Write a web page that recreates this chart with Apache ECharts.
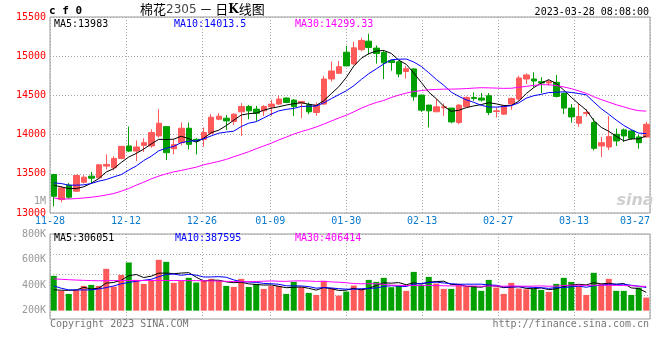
<!DOCTYPE html>
<html><head><meta charset="utf-8">
<script src="https://cdn.jsdelivr.net/npm/echarts@6/dist/echarts.min.js"></script>
<style>html,body{margin:0;padding:0;background:#fff}#c{width:660px;height:360px}</style>
</head><body><div id="c"></div>
<script>
const dates = ['11-28','11-29','11-30','12-01','12-02','12-05','12-06','12-07','12-08','12-09',
'12-12','12-13','12-14','12-15','12-16','12-19','12-20','12-21','12-22','12-23',
'12-26','12-27','12-28','12-29','12-30','01-03','01-04','01-05','01-06','01-09',
'01-10','01-11','01-12','01-13','01-16','01-17','01-18','01-19','01-20','01-30',
'01-31','02-01','02-02','02-03','02-06','02-07','02-08','02-09','02-10','02-13',
'02-14','02-15','02-16','02-17','02-20','02-21','02-22','02-23','02-24','02-27',
'02-28','03-01','03-02','03-03','03-06','03-07','03-08','03-09','03-10','03-13',
'03-14','03-15','03-16','03-17','03-20','03-21','03-22','03-23','03-24','03-27'];
const xTickLabels = ['11-28','12-12','12-26','01-09','01-30','02-13','02-27','03-13','03-27'];

const opens = [13491,13171,13355,13278,13393,13470,13449,13598,13577,13696,
13855,13790,13863,13855,13983,14102,13820,13897,14081,13940,
13940,14017,14196,14209,14167,14291,14359,14325,14303,14355,
14389,14466,14440,14402,14380,14282,14389,14709,14782,15051,
14902,15083,15192,15103,15047,14944,14928,14805,14838,14504,
14376,14291,14342,14338,14154,14355,14474,14466,14496,14295,
14261,14389,14453,14709,14709,14675,14658,14667,14526,14338,
14145,14269,14154,13855,13842,14004,14060,14047,13970,13970];
const closes = [13213,13320,13201,13478,13457,13444,13615,13620,13696,13850,
13790,13842,13897,14026,14145,13769,13872,14081,13876,13919,
14026,14222,14235,14175,14261,14359,14303,14273,14359,14389,
14453,14410,14359,14423,14291,14376,14709,14812,14866,14876,
15107,15201,15110,15035,14915,14920,14773,14840,14483,14312,
14303,14355,14355,14162,14376,14474,14461,14440,14282,14303,
14367,14461,14722,14761,14684,14658,14675,14487,14338,14226,
14231,14282,13825,13897,13974,13919,13983,13953,13897,14132];
const lows = [13085,13137,13179,13269,13376,13384,13440,13555,13543,13684,
13778,13662,13778,13833,13961,13675,13748,13863,13812,13748,
13846,14004,14184,14060,14124,13983,14196,14175,14239,14239,
14380,14402,14239,14209,14261,14239,14380,14675,14773,14872,
14889,15064,15020,14905,14709,14816,14731,14715,14432,14290,
14090,14291,14239,14145,14132,14346,14432,14423,14248,14218,
14252,14316,14432,14645,14603,14530,14624,14474,14261,14154,
14098,14231,13799,13714,13803,13855,13906,13932,13820,13961];
const highs = [13500,13342,13384,13491,13483,13525,13620,13748,13726,13855,
14102,13927,13953,14068,14325,14110,13940,14154,14154,13953,
14090,14261,14273,14248,14273,14402,14376,14367,14376,14444,
14496,14474,14453,14423,14410,14410,14750,14930,14940,15132,
15184,15235,15286,15137,15073,14953,14944,14875,14846,14510,
14380,14461,14397,14340,14389,14487,14538,14530,14530,14346,
14380,14474,14752,14782,14795,14731,14705,14761,14538,14389,
14397,14325,14209,13970,14239,14077,14077,14060,13996,14162];

const ma5 = [13355,13333,13312,13312,13334,13380,13439,13523,13566,13645,
13714,13760,13815,13881,13940,13936,13942,13979,13949,13903,
13955,14025,14056,14115,14184,14250,14267,14274,14311,14337,
14355,14377,14394,14407,14387,14372,14432,14522,14610,14728,
14874,14973,15032,15066,15073,15036,14950,14896,14786,14666,
14542,14458,14362,14297,14310,14344,14366,14383,14407,14392,
14371,14371,14427,14523,14599,14657,14700,14653,14568,14477,
14391,14313,14180,14092,14042,13979,13920,13945,13945,13983];
const ma10 = [13384,13376,13355,13355,13359,13376,13406,13427,13461,13490,
13547,13600,13669,13724,13793,13825,13851,13897,13915,13922,
13946,13984,14018,14032,14044,14103,14146,14165,14213,14261,
14303,14322,14334,14359,14362,14364,14405,14458,14509,14558,
14623,14703,14777,14838,14901,14955,14962,14964,14926,14870,
14789,14704,14629,14542,14488,14443,14412,14373,14352,14351,
14358,14369,14405,14465,14496,14514,14536,14540,14546,14538,
14524,14507,14417,14330,14260,14185,14117,14063,14019,14013.5];
const ma30 = [13192,13179,13179,13184,13192,13201,13213,13230,13248,13278,
13312,13355,13393,13436,13470,13500,13525,13543,13564,13585,
13615,13636,13658,13684,13718,13748,13782,13820,13855,13890,
13932,13968,14007,14038,14066,14097,14134,14173,14212,14247,
14290,14336,14376,14410,14435,14474,14504,14529,14549,14562,
14572,14576,14580,14580,14583,14587,14593,14598,14596,14593,
14590,14591,14604,14615,14628,14637,14636,14625,14608,14586,
14557,14526,14483,14446,14414,14381,14354,14325,14305,14299.33];

const volumes = [583000,331000,280000,347000,414000,431000,414000,700000,403000,599000,
806000,515000,448000,515000,851000,817000,465000,498000,549000,470000,
498000,532000,498000,414000,397000,532000,397000,448000,364000,414000,
414000,280000,481000,397000,297000,263000,498000,381000,252000,319000,
420000,364000,515000,481000,549000,392000,414000,331000,649000,431000,
565000,454000,364000,364000,448000,403000,414000,331000,515000,386000,
280000,465000,370000,358000,364000,347000,314000,448000,549000,481000,
414000,263000,633000,448000,532000,331000,331000,263000,386000,218000];
const volMa5 = [350000,342000,340000,345000,391000,361000,377000,461000,472000,509000,
584000,605000,554000,577000,627000,629000,619000,629000,636000,560000,
496000,509000,509000,482000,468000,475000,448000,438000,428000,431000,
407000,384000,391000,397000,374000,344000,387000,367000,338000,343000,
374000,347000,374000,420000,466000,460000,470000,433000,467000,443000,
478000,486000,493000,436000,439000,407000,399000,392000,422000,410000,
385000,395000,403000,372000,367000,381000,351000,366000,404000,428000,
441000,431000,468000,448000,458000,441000,455000,381000,369000,306051];
const volMa10 = [414000,375000,347000,347000,347000,347000,364000,386000,414000,450000,
473000,491000,508000,525000,568000,607000,612000,592000,607000,594000,
563000,564000,569000,559000,514000,486000,479000,474000,455000,450000,
441000,416000,415000,413000,403000,376000,386000,379000,368000,359000,
359000,367000,371000,379000,405000,417000,409000,404000,444000,455000,
469000,478000,463000,452000,441000,443000,443000,443000,429000,425000,
396000,397000,398000,397000,389000,383000,373000,385000,388000,398000,
411000,391000,417000,426000,443000,441000,443000,425000,409000,387595];
const volMa30 = [532000,525000,518000,512000,507000,503000,500000,502000,504000,505000,
505000,505000,505000,505000,505000,505000,504000,504000,503000,502000,
500000,498000,495000,490000,487000,485000,485000,489000,492000,498000,
492000,490000,497000,499000,495000,489000,492000,481000,476000,467000,
454000,449000,451000,450000,440000,426000,424000,419000,422000,421000,
423000,420000,416000,414000,416000,412000,412000,408000,413000,412000,
408000,414000,410000,409000,411000,414000,408000,410000,420000,426000,
425000,422000,426000,425000,424000,422000,419000,417000,408000,406414];

const MONO = '"DejaVu Sans Mono", monospace';
const UP = '#FF5A5A', DOWN = '#00A000';
const tickSet = new Set(xTickLabels);
const showTick = (idx, val) => tickSet.has(val);
const dotted = {color: '#A8A8A8', width: 1, type: [1, 2]};

const candleData = dates.map((d, i) => [opens[i], closes[i], lows[i], highs[i]]);
const volData = volumes.map((v, i) => ({value: v, itemStyle: {color: closes[i] >= opens[i] ? UP : DOWN}}));

function lineSeries(data, color, xi, yi) {
  return {type: 'line', data: data, xAxisIndex: xi, yAxisIndex: yi, showSymbol: false, symbol: 'none',
    lineStyle: {color: color, width: 1}, itemStyle: {color: color}, silent: true, z: 3};
}
function txt(x, y, text, fill, align, font) {
  return {type: 'text', x: x, y: y, z: 100,
    style: {text: text, fill: fill, align: align || 'left', verticalAlign: 'middle',
      font: font || ('10px ' + MONO)}};
}

const chart = echarts.init(document.getElementById('c'), null, {renderer: 'canvas'});
chart.setOption({
  animation: false,
  backgroundColor: '#fff',
  grid: [
    {left: 50, right: 10, top: 17, height: 196, show: true, borderColor: '#999', borderWidth: 1},
    {left: 50, right: 10, top: 234, height: 85, show: true, borderColor: '#999', borderWidth: 1},
    {left: 50, right: 10, top: 234, height: 102},
    {left: 50, right: 10, top: 234, height: 61}
  ],
  xAxis: [
    {type: 'category', gridIndex: 0, position: 'bottom', data: dates, boundaryGap: true, show: false},
    {type: 'category', gridIndex: 0, position: 'bottom', data: dates, boundaryGap: false,
      axisLine: {show: false}, axisTick: {show: false},
      axisLabel: {interval: showTick, color: '#0A7ACC', fontFamily: MONO, fontSize: 10, margin: 3,
        alignMaxLabel: 'right', showMaxLabel: true, showMinLabel: true},
      splitLine: {show: true, interval: showTick, lineStyle: dotted}},
    {type: 'category', gridIndex: 1, position: 'bottom', data: dates, boundaryGap: true, show: false},
    {type: 'category', gridIndex: 1, position: 'bottom', data: dates, boundaryGap: false,
      axisLine: {show: false}, axisTick: {show: false}, axisLabel: {show: false},
      splitLine: {show: true, interval: showTick, lineStyle: dotted}},
    {type: 'value', gridIndex: 2, show: false},
    {type: 'value', gridIndex: 3, show: false}
  ],
  yAxis: [
    {type: 'value', gridIndex: 0, min: 13000, max: 15500, interval: 500,
      axisLine: {show: false}, axisTick: {show: false},
      axisLabel: {color: '#FF0000', fontFamily: MONO, fontSize: 10, margin: 4, formatter: v => String(v)},
      splitLine: {show: true, lineStyle: dotted}},
    {type: 'value', gridIndex: 1, min: -140000, max: 1283000, show: false},
    {type: 'value', gridIndex: 2, min: 0, max: 800000, interval: 200000,
      axisLine: {show: false}, axisTick: {show: false}, splitLine: {show: false},
      axisLabel: {color: '#999', fontFamily: MONO, fontSize: 10, margin: 4, showMinLabel: false,
        formatter: v => v === 0 ? '' : (v / 1000) + 'K'}},
    {type: 'value', gridIndex: 3, min: 0, max: 3, interval: 1, inverse: true,
      axisLine: {show: false}, axisTick: {show: false}, axisLabel: {show: false},
      splitLine: {show: true, lineStyle: dotted}}
  ],
  series: [
    {type: 'candlestick', data: candleData, xAxisIndex: 0, yAxisIndex: 0, barWidth: 6, z: 2,
      itemStyle: {color: UP, color0: DOWN, borderColor: UP, borderColor0: DOWN, borderWidth: 1}},
    lineSeries(ma5, '#000000', 0, 0),
    lineSeries(ma10, '#0000FF', 0, 0),
    lineSeries(ma30, '#FF00FF', 0, 0),
    {type: 'bar', data: volData, xAxisIndex: 2, yAxisIndex: 1, barWidth: 6, z: 2},
    lineSeries(volMa5, '#000000', 2, 1),
    lineSeries(volMa10, '#0000FF', 2, 1),
    lineSeries(volMa30, '#FF00FF', 2, 1)
  ],
  graphic: [
    txt(49, 11, 'c f 0', '#000', 'left', 'bold 11px ' + MONO),
    {type: 'text', x: 140, y: 9.5, z: 100, style: {
      text: '{a|棉花}{b|2305}{a| － 日}{k|K}{a|线图}', verticalAlign: 'middle', align: 'left',
      rich: {
        a: {fontFamily: '"Noto Sans CJK SC"', fontSize: 13, fill: '#000', color: '#000'},
        b: {fontFamily: '"DejaVu Sans"', fontSize: 12, fill: '#444', color: '#444'},
        k: {fontFamily: '"DejaVu Serif"', fontSize: 12, fontWeight: 'bold', fill: '#000', color: '#000'}
      }}},
    txt(649, 12, '2023-03-28 08:08:00', '#000', 'right'),
    txt(54, 24, 'MA5:13983', '#000'),
    txt(174, 24, 'MA10:14013.5', '#0000FF'),
    txt(295, 24, 'MA30:14299.33', '#FF00FF'),
    txt(46, 201, '1M', '#999', 'right'),
    txt(54, 238.5, 'MA5:306051', '#000'),
    txt(175, 238.5, 'MA10:387595', '#0000FF'),
    txt(295, 238.5, 'MA30:406414', '#FF00FF'),
    txt(50, 324, 'Copyright 2023 SINA.COM', '#777'),
    txt(649, 324, 'http://finance.sina.com.cn', '#777', 'right'),
    txt(635, 201, 'sina', '#CFCFCF', 'center', 'italic bold 16px "DejaVu Sans"')
  ]
});
</script>
</body></html>
